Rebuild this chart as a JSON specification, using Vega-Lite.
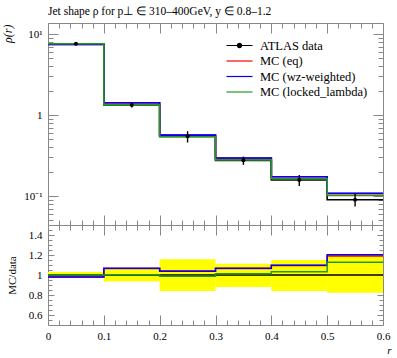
{
  "$schema": "https://vega.github.io/schema/vega-lite/v6.json",
  "background": "white",
  "padding": {"left": 0, "top": 5, "right": 5, "bottom": 5},
  "bounds": "flush",
  "spacing": 0,
  "config": {
    "view": {"stroke": "#888", "strokeWidth": 1},
    "axis": {"domain": false, "grid": false, "tickColor": "#888", "tickWidth": 1, "labelFont": "Liberation Serif", "labelFontSize": 11, "labelColor": "black", "titleFont": "Liberation Serif", "titleFontWeight": "normal", "titleColor": "black", "labelOverlap": false, "labelFlush": false},
    "title": {"font": "Liberation Serif", "fontSize": 11.5, "fontWeight": "normal", "anchor": "start", "frame": "group", "color": "black"}
  },
  "datasets": {
    "hist": [
      {"r": 0.0, "series": "ATLAS data", "v": 7.6},
      {"r": 0.1, "series": "ATLAS data", "v": 1.33},
      {"r": 0.2, "series": "ATLAS data", "v": 0.546},
      {"r": 0.3, "series": "ATLAS data", "v": 0.276},
      {"r": 0.4, "series": "ATLAS data", "v": 0.158},
      {"r": 0.5, "series": "ATLAS data", "v": 0.09},
      {"r": 0.6, "series": "ATLAS data", "v": 0.09},
      {"r": 0.0, "series": "MC (eq)", "v": 7.448},
      {"r": 0.1, "series": "MC (eq)", "v": 1.416},
      {"r": 0.2, "series": "MC (eq)", "v": 0.568},
      {"r": 0.3, "series": "MC (eq)", "v": 0.294},
      {"r": 0.4, "series": "MC (eq)", "v": 0.173},
      {"r": 0.5, "series": "MC (eq)", "v": 0.107},
      {"r": 0.6, "series": "MC (eq)", "v": 0.107},
      {"r": 0.0, "series": "MC (wz-weighted)", "v": 7.448},
      {"r": 0.1, "series": "MC (wz-weighted)", "v": 1.419},
      {"r": 0.2, "series": "MC (wz-weighted)", "v": 0.566},
      {"r": 0.3, "series": "MC (wz-weighted)", "v": 0.2945},
      {"r": 0.4, "series": "MC (wz-weighted)", "v": 0.1733},
      {"r": 0.5, "series": "MC (wz-weighted)", "v": 0.1083},
      {"r": 0.6, "series": "MC (wz-weighted)", "v": 0.1083},
      {"r": 0.0, "series": "MC (locked_lambda)", "v": 7.6},
      {"r": 0.1, "series": "MC (locked_lambda)", "v": 1.334},
      {"r": 0.2, "series": "MC (locked_lambda)", "v": 0.539},
      {"r": 0.3, "series": "MC (locked_lambda)", "v": 0.2796},
      {"r": 0.4, "series": "MC (locked_lambda)", "v": 0.1632},
      {"r": 0.5, "series": "MC (locked_lambda)", "v": 0.1014},
      {"r": 0.6, "series": "MC (locked_lambda)", "v": 0.1014}
    ],
    "points": [
      {"rc": 0.05, "v": 7.6, "lo": 7.372, "hi": 7.828},
      {"rc": 0.15, "v": 1.33, "lo": 1.2436, "hi": 1.4165},
      {"rc": 0.25, "v": 0.546, "lo": 0.4586, "hi": 0.6317},
      {"rc": 0.35, "v": 0.276, "lo": 0.2429, "hi": 0.3072},
      {"rc": 0.45, "v": 0.158, "lo": 0.1327, "hi": 0.1817},
      {"rc": 0.55, "v": 0.09, "lo": 0.0741, "hi": 0.108}
    ],
    "band": [
      {"r0": 0.0, "r1": 0.1, "lo": 0.97, "hi": 1.03},
      {"r0": 0.1, "r1": 0.2, "lo": 0.935, "hi": 1.065},
      {"r0": 0.2, "r1": 0.3, "lo": 0.84, "hi": 1.157},
      {"r0": 0.3, "r1": 0.4, "lo": 0.88, "hi": 1.113},
      {"r0": 0.4, "r1": 0.5, "lo": 0.84, "hi": 1.15},
      {"r0": 0.5, "r1": 0.6, "lo": 0.823, "hi": 1.2}
    ],
    "ratio": [
      {"r": 0.0, "series": "ATLAS data", "ratio": 1},
      {"r": 0.1, "series": "ATLAS data", "ratio": 1},
      {"r": 0.2, "series": "ATLAS data", "ratio": 1},
      {"r": 0.3, "series": "ATLAS data", "ratio": 1},
      {"r": 0.4, "series": "ATLAS data", "ratio": 1},
      {"r": 0.5, "series": "ATLAS data", "ratio": 1},
      {"r": 0.6, "series": "ATLAS data", "ratio": 1},
      {"r": 0.0, "series": "MC (eq)", "ratio": 0.98},
      {"r": 0.1, "series": "MC (eq)", "ratio": 1.065},
      {"r": 0.2, "series": "MC (eq)", "ratio": 1.04},
      {"r": 0.3, "series": "MC (eq)", "ratio": 1.065},
      {"r": 0.4, "series": "MC (eq)", "ratio": 1.095},
      {"r": 0.5, "series": "MC (eq)", "ratio": 1.19},
      {"r": 0.6, "series": "MC (eq)", "ratio": 1.19},
      {"r": 0.0, "series": "MC (wz-weighted)", "ratio": 0.98},
      {"r": 0.1, "series": "MC (wz-weighted)", "ratio": 1.067},
      {"r": 0.2, "series": "MC (wz-weighted)", "ratio": 1.037},
      {"r": 0.3, "series": "MC (wz-weighted)", "ratio": 1.067},
      {"r": 0.4, "series": "MC (wz-weighted)", "ratio": 1.097},
      {"r": 0.5, "series": "MC (wz-weighted)", "ratio": 1.203},
      {"r": 0.6, "series": "MC (wz-weighted)", "ratio": 1.203},
      {"r": 0.0, "series": "MC (locked_lambda)", "ratio": 1.0},
      {"r": 0.1, "series": "MC (locked_lambda)", "ratio": 1.003},
      {"r": 0.2, "series": "MC (locked_lambda)", "ratio": 0.987},
      {"r": 0.3, "series": "MC (locked_lambda)", "ratio": 1.013},
      {"r": 0.4, "series": "MC (locked_lambda)", "ratio": 1.033},
      {"r": 0.5, "series": "MC (locked_lambda)", "ratio": 1.127},
      {"r": 0.6, "series": "MC (locked_lambda)", "ratio": 1.127}
    ]
  },
  "vconcat": [
    {
      "width": 335,
      "height": 202,
      "title": {"text": "Jet shape ρ for p⊥ ∈ 310–400GeV, y ∈ 0.8–1.2", "offset": 5},
      "resolve": {"axis": {"x": "independent", "y": "independent"}},
      "layer": [
        {
          "data": {"name": "hist"},
          "mark": {"type": "line", "interpolate": "step-after", "strokeWidth": 1.6},
          "encoding": {
            "x": {"field": "r", "type": "quantitative",
              "scale": {"domain": [0, 0.6], "nice": false, "zero": false},
              "axis": {"orient": "bottom", "title": null, "labels": false,
                "values": [0,0.02,0.04,0.06,0.08,0.1,0.12,0.14,0.16,0.18,0.2,0.22,0.24,0.26,0.28,0.3,0.32,0.34,0.36,0.38,0.4,0.42,0.44,0.46,0.48,0.5,0.52,0.54,0.56,0.58,0.6],
                "tickSize": {"condition": {"test": "abs(datum.value*10 - round(datum.value*10)) < 0.001", "value": -10}, "value": -5}}},
            "y": {"field": "v", "type": "quantitative",
              "scale": {"type": "log", "domain": [0.0439, 13.7], "nice": false},
              "axis": {"orient": "left", "title": "ρ(r)", "titleFontStyle": "italic", "titleFontSize": 12,
                "titleAnchor": "end", "titleAngle": -90, "titleAlign": "right", "titleBaseline": "alphabetic", "titleX": -37, "titleY": 1,
                "values": [0.05,0.06,0.07,0.08,0.09,0.1,0.2,0.3,0.4,0.5,0.6,0.7,0.8,0.9,1,2,3,4,5,6,7,8,9,10],
                "labelExpr": "datum.value == 10 ? '10¹' : (datum.value == 1 ? '1' : (datum.value == 0.1 ? '10⁻¹' : ''))",
                "labelPadding": 16,
                "tickSize": {"condition": {"test": "abs(log(datum.value)/LN10 - round(log(datum.value)/LN10)) < 0.001", "value": -10}, "value": -5}}},
            "color": {"field": "series", "type": "nominal",
              "scale": {"domain": ["ATLAS data", "MC (eq)", "MC (wz-weighted)", "MC (locked_lambda)"], "range": ["black", "#ff0000", "#0000ff", "#229922"]},
              "legend": {"orient": "none", "legendX": 184, "legendY": 15, "title": null,
                "symbolType": "M-2,0H2", "symbolSize": 169, "symbolStrokeWidth": 1.2,
                "labelFont": "Liberation Serif", "labelFontSize": 12.5, "labelColor": "black", "labelOffset": 13, "rowPadding": 1.5,
                "encode": {"symbols": {"update": {
                  "shape": {"signal": "datum.value === 'ATLAS data' ? 'M-2,0H2M0.32,0A0.32,0.32,0,1,1,-0.32,0A0.32,0.32,0,1,1,0.32,0Z' : 'M-2,0H2'"},
                  "fill": {"value": "black"}}}}}}
          }
        },
        {
          "data": {"name": "points"},
          "mark": {"type": "rule", "color": "black", "strokeWidth": 1.4},
          "encoding": {
            "x": {"field": "rc", "type": "quantitative",
              "scale": {"domain": [0, 0.6], "nice": false, "zero": false},
              "axis": {"orient": "top", "title": null, "labels": false,
                "values": [0,0.02,0.04,0.06,0.08,0.1,0.12,0.14,0.16,0.18,0.2,0.22,0.24,0.26,0.28,0.3,0.32,0.34,0.36,0.38,0.4,0.42,0.44,0.46,0.48,0.5,0.52,0.54,0.56,0.58,0.6],
                "tickSize": {"condition": {"test": "abs(datum.value*10 - round(datum.value*10)) < 0.001", "value": -10}, "value": -5}}},
            "y": {"field": "lo", "type": "quantitative",
              "scale": {"type": "log", "domain": [0.0439, 13.7], "nice": false},
              "axis": {"orient": "right", "title": null, "labels": false,
                "values": [0.05,0.06,0.07,0.08,0.09,0.1,0.2,0.3,0.4,0.5,0.6,0.7,0.8,0.9,1,2,3,4,5,6,7,8,9,10],
                "tickSize": {"condition": {"test": "abs(log(datum.value)/LN10 - round(log(datum.value)/LN10)) < 0.001", "value": -10}, "value": -5}}},
            "y2": {"field": "hi"}
          }
        },
        {
          "data": {"name": "points"},
          "mark": {"type": "point", "filled": true, "color": "black", "size": 16, "opacity": 1},
          "encoding": {
            "x": {"field": "rc", "type": "quantitative", "scale": {"domain": [0, 0.6], "nice": false, "zero": false}, "axis": null},
            "y": {"field": "v", "type": "quantitative", "scale": {"type": "log", "domain": [0.0439, 13.7], "nice": false}, "axis": null}
          }
        }
      ]
    },
    {
      "width": 335,
      "height": 100,
      "resolve": {"axis": {"x": "independent", "y": "independent"}},
      "layer": [
        {
          "data": {"name": "band"},
          "mark": {"type": "rect", "color": "#ffff00", "opacity": 1},
          "encoding": {
            "x": {"field": "r0", "type": "quantitative",
              "scale": {"domain": [0, 0.6], "nice": false, "zero": false},
              "axis": {"orient": "bottom", "title": "r", "titleFontStyle": "italic", "titleFontSize": 11,
                "titleX": 343, "titleY": 28, "titleAlign": "right", "titleBaseline": "alphabetic",
                "values": [0,0.02,0.04,0.06,0.08,0.1,0.12,0.14,0.16,0.18,0.2,0.22,0.24,0.26,0.28,0.3,0.32,0.34,0.36,0.38,0.4,0.42,0.44,0.46,0.48,0.5,0.52,0.54,0.56,0.58,0.6],
                "labelExpr": "abs(datum.value*10 - round(datum.value*10)) < 0.001 ? format(datum.value, '~g') : ''",
                "labelPadding": 15,
                "tickSize": {"condition": {"test": "abs(datum.value*10 - round(datum.value*10)) < 0.001", "value": -10}, "value": -5}}},
            "x2": {"field": "r1"},
            "y": {"field": "lo", "type": "quantitative",
              "scale": {"domain": [0.5, 1.5], "nice": false, "zero": false},
              "axis": {"orient": "left", "title": "MC/data", "titleFontSize": 11,
                "titleAngle": -90, "titleAlign": "center", "titleBaseline": "alphabetic", "titleX": -33, "titleY": 50,
                "values": [0.55,0.6,0.65,0.7,0.75,0.8,0.85,0.9,0.95,1,1.05,1.1,1.15,1.2,1.25,1.3,1.35,1.4,1.45],
                "labelExpr": "abs(datum.value*5 - round(datum.value*5)) < 0.001 ? format(datum.value, '~g') : ''",
                "labelPadding": 12,
                "tickSize": {"condition": {"test": "abs(datum.value*5 - round(datum.value*5)) < 0.001", "value": -6}, "value": -4}}},
            "y2": {"field": "hi"}
          }
        },
        {
          "data": {"name": "ratio"},
          "mark": {"type": "line", "interpolate": "step-after", "strokeWidth": 1.5},
          "encoding": {
            "x": {"field": "r", "type": "quantitative",
              "scale": {"domain": [0, 0.6], "nice": false, "zero": false},
              "axis": {"orient": "top", "title": null, "labels": false,
                "values": [0,0.02,0.04,0.06,0.08,0.1,0.12,0.14,0.16,0.18,0.2,0.22,0.24,0.26,0.28,0.3,0.32,0.34,0.36,0.38,0.4,0.42,0.44,0.46,0.48,0.5,0.52,0.54,0.56,0.58,0.6],
                "tickSize": {"condition": {"test": "abs(datum.value*10 - round(datum.value*10)) < 0.001", "value": -10}, "value": -5}}},
            "y": {"field": "ratio", "type": "quantitative",
              "scale": {"domain": [0.5, 1.5], "nice": false, "zero": false},
              "axis": {"orient": "right", "title": null, "labels": false,
                "values": [0.55,0.6,0.65,0.7,0.75,0.8,0.85,0.9,0.95,1,1.05,1.1,1.15,1.2,1.25,1.3,1.35,1.4,1.45],
                "tickSize": {"condition": {"test": "abs(datum.value*5 - round(datum.value*5)) < 0.001", "value": -6}, "value": -4}}},
            "color": {"field": "series", "type": "nominal",
              "scale": {"domain": ["ATLAS data", "MC (eq)", "MC (wz-weighted)", "MC (locked_lambda)"], "range": ["black", "#ff0000", "#0000ff", "#229922"]},
              "legend": null}
          }
        }
      ]
    }
  ]
}
